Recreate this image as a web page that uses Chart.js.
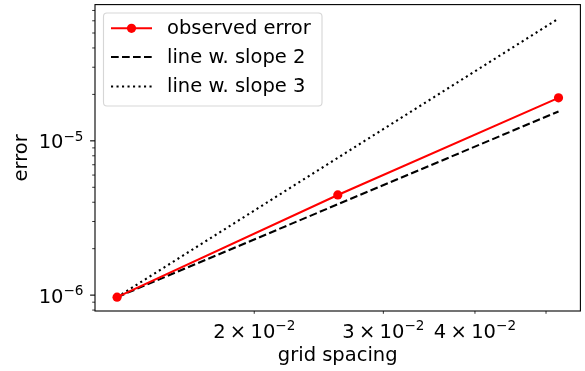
<!DOCTYPE html>
<html>
<head>
<meta charset="utf-8">
<script src="https://cdn.jsdelivr.net/npm/chart.js@4.4.0/dist/chart.umd.min.js"></script>
<style>
  html, body { margin: 0; padding: 0; background: #fff; }
  #wrap { width: 585px; height: 371px; }
</style>
</head>
<body>
<div id="wrap"><canvas id="errChart" width="585" height="371"></canvas></div>
<script>
// convergence data (log-log)
const gridSpacing = [0.013, 0.026, 0.052];
const observedError = [9.7e-7, 4.46e-6, 1.9e-5];
const slope2Line = [9.7e-7, 3.88e-6, 1.55e-5];
const slope3Line = [9.7e-7, 7.76e-6, 6.2e-5];

const seriesLabels = ['observed error', 'line w. slope 2', 'line w. slope 3'];

// tick positions and labels [mantissa, exponent]
const xTicks = [0.02, 0.03, 0.04, 0.05];
const xTickLabels = [['2', '−2'], ['3', '−2'], ['4', '−2'], null];
const yMajorTicks = [1e-6, 1e-5];
const yTickLabels = ['−6', '−5'];
const yMinorTicks = [8e-7, 9e-7, 2e-6, 3e-6, 4e-6, 5e-6, 6e-6, 7e-6, 8e-6, 9e-6,
                     2e-5, 3e-5, 4e-5, 5e-5, 6e-5, 7e-5];

const FONT = '"DejaVu Sans", sans-serif';
const FS = 19.5;
const SUP = 13.6;

function toPoints(ys) {
    return gridSpacing.map((x, i) => ({ x: x, y: ys[i] }));
}

// spines, tick marks, math-style tick labels and the legend box
const axesDecor = {
    id: 'axesDecor',
    afterDatasetsDraw(chart) {
        const ctx = chart.ctx;
        const area = chart.chartArea;
        const xs = chart.scales.x;
        const ys = chart.scales.y;
        ctx.save();
        ctx.strokeStyle = '#000';
        ctx.fillStyle = '#000';

        // frame
        ctx.lineWidth = 1.1;
        ctx.strokeRect(area.left, area.top, area.right - area.left, area.bottom - area.top);

        // tick marks
        xs.ticks.forEach(t => {
            const px = xs.getPixelForValue(t.value);
            ctx.lineWidth = t.major ? 1.1 : 0.8;
            ctx.beginPath();
            ctx.moveTo(px, area.bottom);
            ctx.lineTo(px, area.bottom + (t.major ? 4.9 : 2.8));
            ctx.stroke();
        });
        ys.ticks.forEach(t => {
            const py = ys.getPixelForValue(t.value);
            ctx.lineWidth = t.major ? 1.1 : 0.8;
            ctx.beginPath();
            ctx.moveTo(area.left, py);
            ctx.lineTo(area.left - (t.major ? 4.9 : 2.8), py);
            ctx.stroke();
        });

        // x labels: "m × 10^e"
        ctx.textBaseline = 'alphabetic';
        ctx.textAlign = 'left';
        xTicks.forEach((v, i) => {
            const lab = xTickLabels[i];
            if (!lab) return;
            const px = xs.getPixelForValue(v);
            ctx.font = FS + 'px ' + FONT;
            const wm = ctx.measureText(lab[0]).width;
            const wt = ctx.measureText('×').width;
            const wb = ctx.measureText('10').width;
            ctx.font = SUP + 'px ' + FONT;
            const we = ctx.measureText(lab[1]).width;
            const gap = 4.3;
            const total = wm + gap + wt + gap + wb + we;
            let x0 = px - total / 2;
            const base = area.bottom + 26.5;
            ctx.font = FS + 'px ' + FONT;
            ctx.fillText(lab[0], x0, base);
            x0 += wm + gap;
            ctx.fillText('×', x0, base);
            x0 += wt + gap;
            ctx.fillText('10', x0, base);
            x0 += wb;
            ctx.font = SUP + 'px ' + FONT;
            ctx.fillText(lab[1], x0, base - 7.8);
        });

        // y labels: "10^e", right aligned
        yMajorTicks.forEach((v, i) => {
            const py = ys.getPixelForValue(v);
            ctx.font = SUP + 'px ' + FONT;
            const we = ctx.measureText(yTickLabels[i]).width;
            ctx.font = FS + 'px ' + FONT;
            const wb = ctx.measureText('10').width;
            const right = area.left - 11.5;
            const base = py + 7.4;
            ctx.fillText('10', right - we - wb, base);
            ctx.font = SUP + 'px ' + FONT;
            ctx.fillText(yTickLabels[i], right - we, base - 7.6);
        });
        ctx.restore();
    },
    afterDraw(chart) {
        const ctx = chart.ctx;
        const bx = 103.5, by = 13, bw = 218.5, bh = 93;
        ctx.save();
        ctx.beginPath();
        ctx.roundRect(bx, by, bw, bh, 3.5);
        ctx.fillStyle = 'rgba(255,255,255,0.8)';
        ctx.fill();
        ctx.strokeStyle = 'rgba(204,204,204,0.8)';
        ctx.lineWidth = 1.1;
        ctx.stroke();

        const rows = [28.3, 57, 86.5];
        chart.data.datasets.forEach((ds, i) => {
            const cy = rows[i];
            ctx.strokeStyle = ds.borderColor;
            ctx.lineWidth = ds.borderWidth;
            ctx.lineCap = 'butt';
            ctx.setLineDash(ds.borderDash || []);
            ctx.beginPath();
            ctx.moveTo(111, cy);
            ctx.lineTo(152, cy);
            ctx.stroke();
            ctx.setLineDash([]);
            if (ds.pointRadius > 0) {
                ctx.fillStyle = ds.pointBackgroundColor;
                ctx.beginPath();
                ctx.arc(131.5, cy, ds.pointRadius, 0, Math.PI * 2);
                ctx.fill();
            }
            ctx.fillStyle = '#000';
            ctx.font = FS + 'px ' + FONT;
            ctx.textAlign = 'left';
            ctx.textBaseline = 'alphabetic';
            ctx.fillText(ds.label, 167, cy + 5.6);
        });
        ctx.restore();
    }
};

const myChart = new Chart(document.getElementById('errChart'), {
    type: 'line',
    data: {
        datasets: [
            {
                label: seriesLabels[0],
                data: toPoints(observedError),
                borderColor: '#ff0000',
                backgroundColor: '#ff0000',
                pointBackgroundColor: '#ff0000',
                pointBorderWidth: 0,
                borderWidth: 2.1,
                pointRadius: 4.6,
                tension: 0,
                order: 0
            },
            {
                label: seriesLabels[1],
                data: toPoints(slope2Line),
                borderColor: '#000000',
                borderWidth: 2.1,
                borderDash: [7.7, 3.3],
                pointRadius: 0,
                tension: 0,
                order: 1
            },
            {
                label: seriesLabels[2],
                data: toPoints(slope3Line),
                borderColor: '#000000',
                borderWidth: 2.1,
                borderDash: [2.1, 3.4],
                pointRadius: 0,
                tension: 0,
                order: 2
            }
        ]
    },
    options: {
        responsive: false,
        animation: false,
        devicePixelRatio: 1,
        layout: { padding: { top: 2, right: 3.5, left: 0, bottom: 0 } },
        plugins: { legend: { display: false }, tooltip: { enabled: false } },
        scales: {
            x: {
                type: 'logarithmic',
                min: 0.01213,
                max: 0.0557,
                afterBuildTicks: s => { s.ticks = xTicks.map(v => ({ value: v, major: false })); },
                afterFit: s => { s.height = 60; },
                ticks: { display: false },
                grid: { display: false },
                border: { display: false },
                title: {
                    display: true,
                    text: 'grid spacing',
                    color: '#000',
                    font: { family: FONT, size: FS },
                    padding: { top: 0, bottom: 3.5 }
                }
            },
            y: {
                type: 'logarithmic',
                min: 7.89e-7,
                max: 7.64e-5,
                afterBuildTicks: s => {
                    s.ticks = yMajorTicks.map(v => ({ value: v, major: true }))
                        .concat(yMinorTicks.map(v => ({ value: v, major: false })));
                },
                afterFit: s => { s.width = 95; },
                ticks: { display: false },
                grid: { display: false },
                border: { display: false },
                title: {
                    display: true,
                    text: 'error',
                    color: '#000',
                    font: { family: FONT, size: FS },
                    padding: { top: 10.5, bottom: 0 }
                }
            }
        }
    },
    plugins: [axesDecor]
});
</script>
</body>
</html>
